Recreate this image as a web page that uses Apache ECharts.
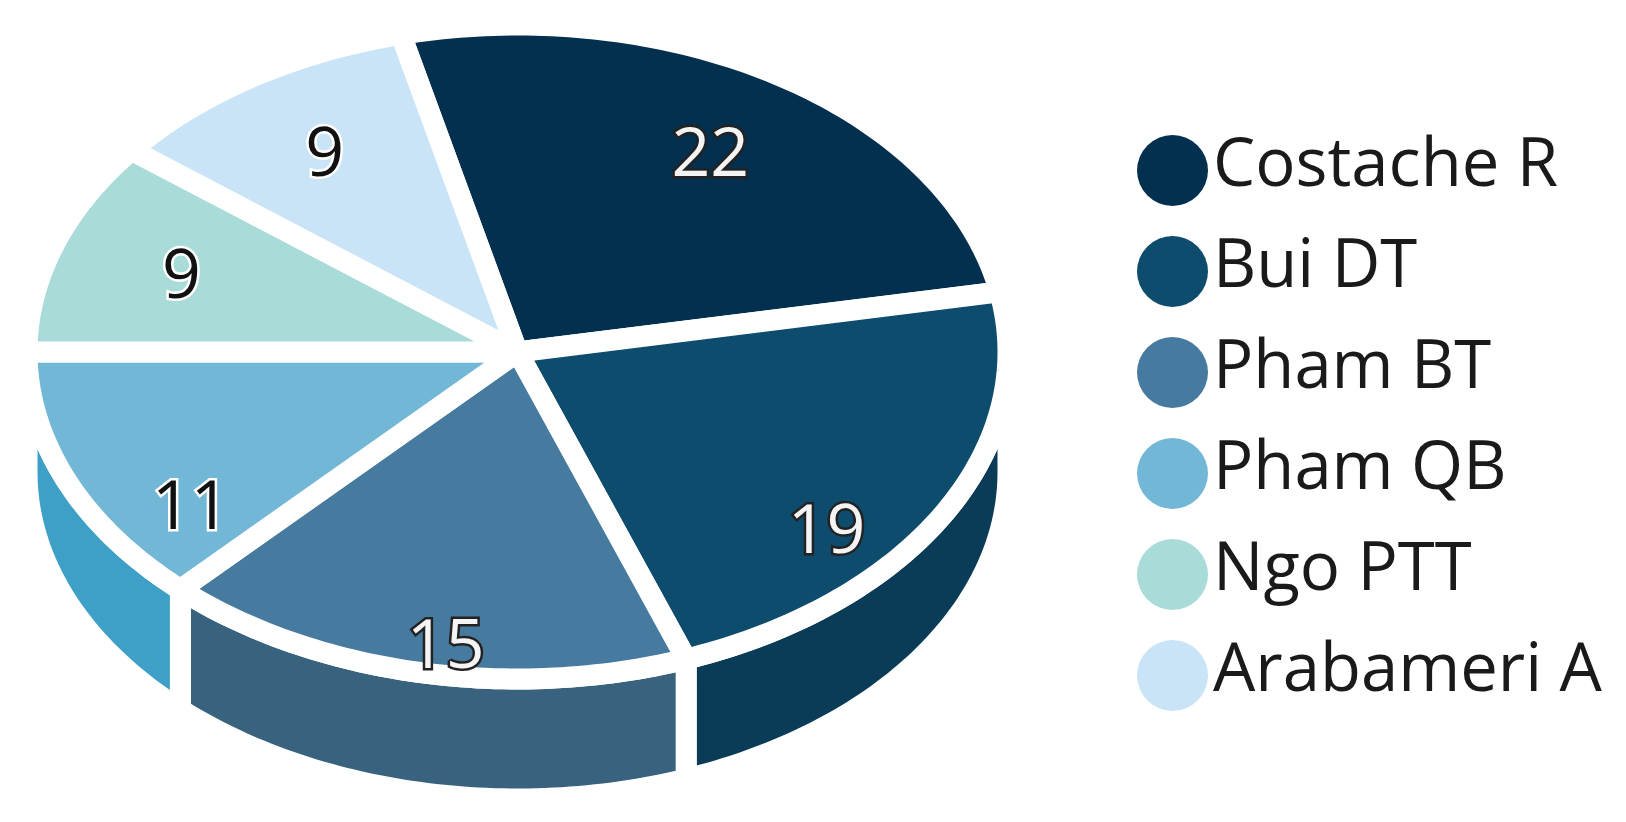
<!DOCTYPE html>
<html>
<head>
<meta charset="utf-8">
<title>3D pie</title>
<script src="https://cdn.jsdelivr.net/npm/echarts@6/dist/echarts.min.js"></script>
<style>
  html, body { margin: 0; padding: 0; background: #fff; }
  #main { width: 1626px; height: 822px; filter: blur(0.7px); }
</style>
</head>
<body>
<div id="main"></div>
<script>
  const authors = ['Costache R', 'Bui DT', 'Pham BT', 'Pham QB', 'Ngo PTT', 'Arabameri A']
  const counts = [22, 19, 15, 11, 9, 9]
  const topColors = ['#03304f', '#0e4c6e', '#467a9e', '#72b7d6', '#a9dbd9', '#c9e4f6']
  const wallColors = ['#022539', '#0a3c58', '#38627e', '#3fa0c7', '#7fb8b5', '#9cc3dd']
  const labelDark = [false, false, false, true, true, true]

  // pie geometry, the ellipse is the tilted circle
  const cx = 517.5
  const cy = 352
  const rx = 490.5
  const ry = 327
  const depth = 120
  const gap = 21
  const startAngle = -13.76
  const labelRadius = 0.725

  const total = counts.reduce((a, b) => a + b, 0)

  function sliceAngles (index, value) {
    let sum = 0
    for (let i = 0; i < index; i++) sum += counts[i]
    const from = startAngle + sum / total * 360
    return [from, from + value / total * 360]
  }

  // angle in degrees, clockwise from top
  function rimPoint (deg, dy) {
    const a = deg * Math.PI / 180
    return [cx + rx * Math.sin(a), cy + dy - ry * Math.cos(a)]
  }

  function arcPoints (from, to, dy) {
    const pts = []
    const steps = Math.max(2, Math.ceil(Math.abs(to - from)))
    for (let i = 0; i <= steps; i++) {
      pts.push(rimPoint(from + (to - from) * i / steps, dy))
    }
    return pts
  }

  function renderTop (index) {
    return function (params, api) {
      const [from, to] = sliceAngles(index, api.value(0))
      const mid = (from + to) / 2
      const a = mid * Math.PI / 180
      const front = mid > 90 && mid < 270
      return {
        type: 'group',
        children: [
          {
            type: 'polygon',
            shape: { points: [[cx, cy]].concat(arcPoints(from, to, 0)) },
            style: { fill: topColors[index], stroke: '#fff', lineWidth: gap, lineJoin: 'round' }
          },
          {
            type: 'text',
            z2: 100,
            x: cx + rx * labelRadius * Math.sin(a),
            y: cy - ry * labelRadius * Math.cos(a) + (front ? depth / 2 : 0) + 4,
            style: {
              text: String(api.value(0)),
              font: '500 68px "Open Sans"',
              align: 'center',
              verticalAlign: 'middle',
              fill: labelDark[index] ? '#111' : '#f4f4f4',
              stroke: labelDark[index] ? '#fff' : '#222',
              lineWidth: 5,
              strokeFirst: true
            }
          }
        ]
      }
    }
  }

  function renderWall (params, api) {
    const index = params.dataIndex
    const [from, to] = sliceAngles(index, api.value(0))
    const a = Math.max(from, 90)
    const b = Math.min(to, 270)
    if (a >= b) return { type: 'group', children: [] }
    const upper = arcPoints(a, b, 0)
    const lower = arcPoints(b, a, depth)
    return {
      type: 'polygon',
      shape: { points: upper.concat(lower) },
      style: { fill: wallColors[index], stroke: '#fff', lineWidth: gap, lineJoin: 'miter' }
    }
  }

  const series = [{
    name: 'walls',
    type: 'custom',
    coordinateSystem: 'none',
    silent: true,
    z: 1,
    data: counts.map(v => [v]),
    renderItem: renderWall
  }]
  authors.forEach((name, i) => {
    series.push({
      name: name,
      type: 'custom',
      coordinateSystem: 'none',
      silent: true,
      z: 2,
      itemStyle: { color: topColors[i] },
      data: [[counts[i]]],
      renderItem: renderTop(i)
    })
  })

  const mychart = echarts.init(document.getElementById('main'), null, { renderer: 'canvas' })
  mychart.setOption({
    animation: false,
    backgroundColor: '#fff',
    legend: {
      data: authors,
      orient: 'vertical',
      left: 1137,
      top: 133,
      icon: 'circle',
      itemWidth: 71,
      itemHeight: 71,
      itemGap: 26,
      selectedMode: false,
      padding: 0,
      formatter: '{n|{name}}',
      textStyle: {
        rich: {
          n: { fontFamily: 'Open Sans', fontSize: 67, color: '#1a1a1a', lineHeight: 71, padding: [0, 0, 8, 0] }
        }
      }
    },
    series: series
  })
</script>
</body>
</html>
